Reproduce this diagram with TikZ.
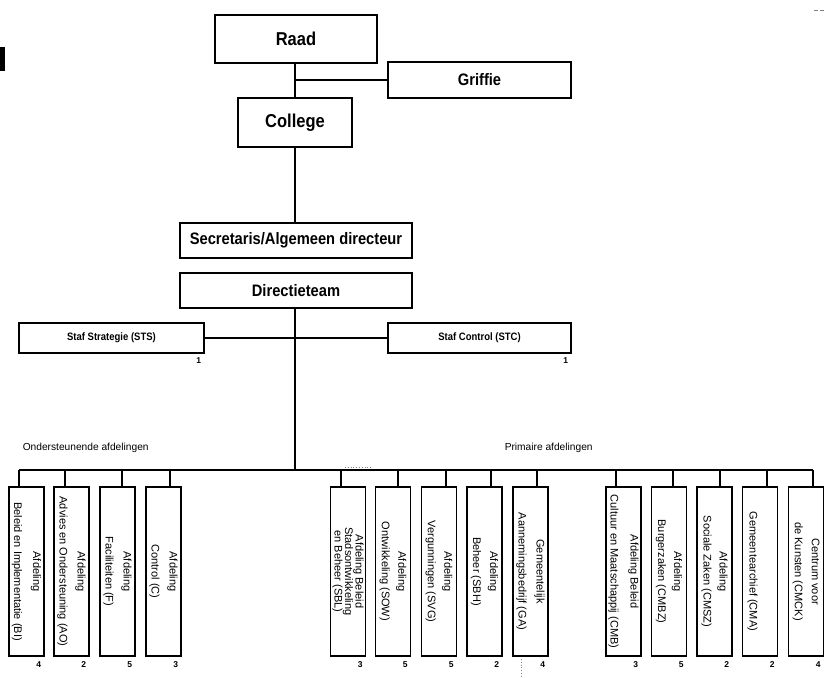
\documentclass[tikz,border=0pt]{standalone}
\usepackage{fontspec}
\usepackage{graphicx}
\setmainfont{Liberation Sans}
\usetikzlibrary{calc}

% vertical (clockwise) multi-line label with a given line pitch
\newcommand\vtxt[2]{\rotatebox{-90}{\vbox{\baselineskip=#1\lineskiplimit=-50pt\lineskip=0pt\halign{\hfil##\hfil\cr#2\crcr}}}}
% slightly condensed-looking bold captions
\newcommand\tall[1]{\scalebox{1}[1.13]{#1}}

\begin{document}
\begin{tikzpicture}[x=1pt,y=-1pt,
  line width=1.5pt,
  box/.style={draw, line width=1.5pt, rectangle, inner sep=0pt},
  bigtxt/.style={font=\fontsize{16.5}{18}\selectfont\bfseries},
  midtxt/.style={font=\fontsize{14.7}{16}\selectfont\bfseries},
  staftxt/.style={font=\fontsize{9.5}{11}\selectfont\bfseries},
  dept/.style={box, minimum width=35pt, minimum height=169pt, font=\fontsize{11}{13}\selectfont},
  grp/.style={anchor=west, inner sep=0pt, font=\fontsize{10.2}{12}\selectfont},
  num/.style={inner sep=0pt, font=\fontsize{8.5}{10}\selectfont\bfseries}
]
\useasboundingbox (0,0) rectangle (826,677);

% board and council
\node[box, bigtxt, minimum width=162pt, minimum height=48pt] (raad) at (296,39) {\tall{Raad}};
\node[box, midtxt, minimum width=183pt, minimum height=36pt] (griffie) at (479.5,80) {\tall{Griffie}};
\node[box, bigtxt, minimum width=114pt, minimum height=49pt] (college) at (295,122.5) {\tall{College}};
\node[box, midtxt, minimum width=232pt, minimum height=35pt] (secr) at (296,240.5) {\tall{Secretaris/Algemeen directeur}};
\node[box, midtxt, minimum width=232pt, minimum height=35pt] (dir) at (296,290.5) {\tall{Directieteam}};

% staff units
\node[box, staftxt, minimum width=185pt, minimum height=30pt] (sts) at (111.5,338) {\tall{Staf Strategie (STS)}};
\node[box, staftxt, minimum width=183pt, minimum height=30pt] (stc) at (479.5,338) {\tall{Staf Control (STC)}};
\node[num] (sts1) at ([xshift=-6pt,yshift=-7pt]sts.south east) {1};
\node[num] (stc1) at ([xshift=-6pt,yshift=-7pt]stc.south east) {1};

% main spine
\coordinate (trunk) at (295,0);
\coordinate (barL) at (19,470);
\coordinate (barR) at (813,470);
\draw (raad.south -| trunk) -- (college.north -| trunk);
\draw (griffie.west -| trunk) -- (griffie.west);
\draw (college.south -| trunk) -- (secr.north -| trunk);
\draw (dir.south -| trunk) -- (barL -| trunk);
\draw (sts.east) -- (stc.west);
\draw (barL) -- (barR);

% group headings
\node[grp] (ond) at (22,448) {Ondersteunende afdelingen};
\node[grp] (prim) at (504,448) {Primaire afdelingen};

% supporting departments
\node[dept] (b1) at (26.5,571.5) {\vtxt{19pt}{Afdeling\cr Beleid en Implementatie (BI)}};
\node[dept] (b2) at (71.5,571.5) {\vtxt{18pt}{Afdeling\cr Advies en Ondersteuning (AO)}};
\node[dept] (b3) at (117.5,571.5) {\vtxt{18pt}{Afdeling\cr Faciliteiten (F)}};
\node[dept] (b4) at (163.5,571.5) {\vtxt{18pt}{Afdeling\cr Control (C)}};

% primary departments
\node[dept] (b5) at (348,571.5) {\vtxt{10.5pt}{Afdeling Beleid\cr Stadsontwikkeling\cr en Beheer (SBL)}};
\node[dept] (b6) at (393,571.5) {\vtxt{16.5pt}{Afdeling\cr Ontwikkeling (SOW)}};
\node[dept] (b7) at (439,571.5) {\vtxt{16.5pt}{Afdeling\cr Vergunningen (SVG)}};
\node[dept] (b8) at (484.5,571.5) {\vtxt{17pt}{Afdeling\cr Beheer (SBH)}};
\node[dept] (b9) at (530.5,571.5) {\vtxt{18pt}{Gemeentelijk\cr Aannemingsbedrijf (GA)}};
\node[dept] (b10) at (623.5,571.5) {\vtxt{20pt}{Afdeling Beleid\cr Cultuur en Maatschappij (CMB)}};
\node[dept] (b11) at (669,571.5) {\vtxt{16pt}{Afdeling\cr Burgerzaken (CMBZ)}};
\node[dept] (b12) at (714.5,571.5) {\vtxt{16pt}{Afdeling\cr Sociale Zaken (CMSZ)}};
\node[dept] (b13) at (760,571.5) {\vtxt{14pt}{\strut\cr Gemeentearchief (CMA)}};
\node[dept] (b14) at (806,571.5) {\vtxt{17pt}{Centrum voor\cr de Kunsten (CMCK)}};

% stems from the bar
\foreach \b/\x in {b1/19,b2/65,b3/122,b4/170,b5/341,b6/398,b7/446,b8/491,b9/537,
                   b10/616,b11/673,b12/720,b13/767,b14/813}{
  \coordinate (s-\b) at (\x,470);
  \draw (s-\b) -- (s-\b |- \b.north);
}

% staffing numbers
\foreach \b/\n in {b1/4,b2/2,b3/5,b4/3,b5/3,b6/5,b7/5,b8/2,b9/4,
                   b10/3,b11/5,b12/2,b13/2,b14/4}{
  \node[num] (n-\b) at ([xshift=-6pt,yshift=-7.5pt]\b.south east) {\n};
}

% dotted marks
\draw[dotted, gray, line width=0.8pt] (345,467) -- (373,467);
\draw[dotted, gray, line width=0.8pt] (521,659) -- (521,677);

% edge fragments
\fill (0,47) rectangle (5,71);
\draw[gray, line width=0.8pt] (814,10) -- (818,10) (820,10) -- (824,10);
\end{tikzpicture}
\end{document}
